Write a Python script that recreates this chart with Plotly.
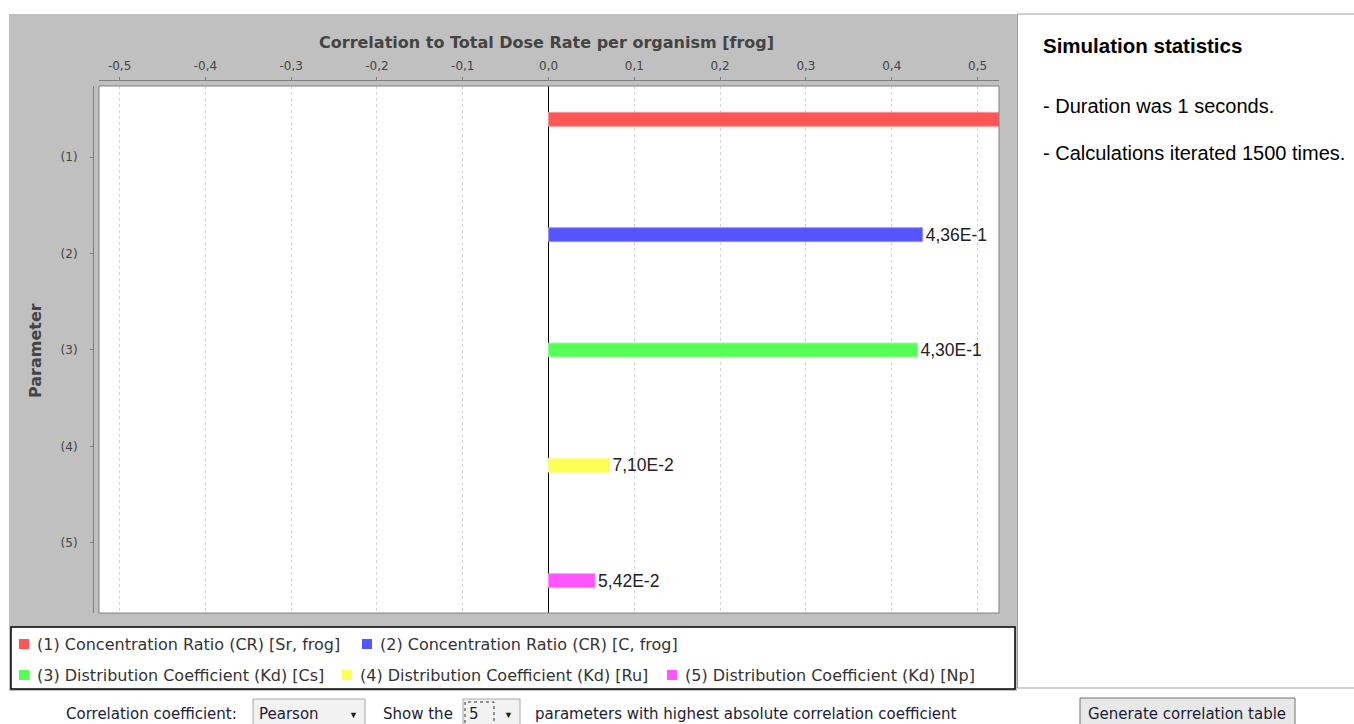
import plotly.graph_objects as go

W, H = 1354, 724

# ---- data -------------------------------------------------------------
categories = ["(1)", "(2)", "(3)", "(4)", "(5)"]
parameter_names = [
    "(1) Concentration Ratio (CR) [Sr, frog]",
    "(2) Concentration Ratio (CR) [C, frog]",
    "(3) Distribution Coefficient (Kd) [Cs]",
    "(4) Distribution Coefficient (Kd) [Ru]",
    "(5) Distribution Coefficient (Kd) [Np]",
]
correlations = [0.575, 0.436, 0.430, 0.0710, 0.0542]
series_colors = ["#FF5555", "#5555FF", "#55FF55", "#FFFF55", "#FF55FF"]
outline_colors = ["#FF9999", "#9999FF", "#99FF99", "#FFFF99", "#FF99FF"]

x_tick_values = [-0.5, -0.4, -0.3, -0.2, -0.1, 0.0, 0.1, 0.2, 0.3, 0.4, 0.5]
x_tick_labels = ["-0,5", "-0,4", "-0,3", "-0,2", "-0,1", "0,0",
                 "0,1", "0,2", "0,3", "0,4", "0,5"]
x_range = [-0.524, 0.525]

stats_title = "Simulation statistics"
stats_lines = ["- Duration was 1 seconds.", "- Calculations iterated 1500 times."]


def sci_label(v):
    """Scientific notation with a decimal comma, e.g. 4,36E-1."""
    mant, exp = f"{v:.2E}".split("E")
    return f"{mant.replace('.', ',')}E{int(exp)}"


def px(x):
    return x / W


def py(y):
    return 1 - y / H


FONT = "Liberation Sans, Arial, sans-serif"
UI = "DejaVu Sans, Verdana, sans-serif"
AX_GREY = "#444444"

# each parameter occupies its own slot inside a category band (5 slots per band)
SLOT = 0.197
BAR_W = 0.145

fig = go.Figure()

for i, (cat, val) in enumerate(zip(categories, correlations)):
    label = sci_label(val) if val <= x_range[1] else ""
    fig.add_trace(go.Bar(
        y=[cat], x=[val], orientation="h",
        name=parameter_names[i],
        width=BAR_W, offset=(i - 2) * SLOT - BAR_W / 2,
        marker=dict(color=series_colors[i],
                    line=dict(color=outline_colors[i], width=1)),
        text=[label], textposition="outside", constraintext="none",
        textfont=dict(family=FONT, size=17.5, color="#222222"),
        cliponaxis=True,
        showlegend=False,
        hoverinfo="x+name",
    ))

shapes = []
# grey chart panel (also framing the legend)
shapes.append(dict(type="rect", xref="paper", yref="paper",
                   x0=px(9), x1=px(1017), y0=py(691), y1=py(14),
                   fillcolor="#C0C0C0", line=dict(width=0), layer="below"))
# white plot area
shapes.append(dict(type="rect", xref="paper", yref="paper",
                   x0=px(99), x1=px(999), y0=py(613), y1=py(86),
                   fillcolor="white", line=dict(width=0), layer="below"))
# plot outline
shapes.append(dict(type="rect", xref="paper", yref="paper",
                   x0=px(99), x1=px(999), y0=py(613), y1=py(86),
                   fillcolor="rgba(0,0,0,0)", line=dict(color="#808080", width=1),
                   layer="above"))
# statistics panel
shapes.append(dict(type="rect", xref="paper", yref="paper",
                   x0=px(1017.5), x1=px(1360), y0=py(688), y1=py(14),
                   fillcolor="white", line=dict(color="#A0A0A0", width=1),
                   layer="below"))
# legend box
shapes.append(dict(type="rect", xref="paper", yref="paper",
                   x0=px(11), x1=px(1015), y0=py(689), y1=py(627),
                   fillcolor="white", line=dict(color="#000000", width=1.5),
                   layer="above"))

annotations = []

# axis titles
annotations.append(dict(text="<b>Correlation to Total Dose Rate per organism [frog]</b>",
                        x=px(546), y=py(43), xref="paper", yref="paper",
                        showarrow=False, xanchor="center", yanchor="middle",
                        font=dict(family=UI, size=16, color=AX_GREY)))
annotations.append(dict(text="<b>Parameter</b>", textangle=-90,
                        x=px(35), y=py(351), xref="paper", yref="paper",
                        showarrow=False, xanchor="center", yanchor="middle",
                        font=dict(family=UI, size=16, color=AX_GREY)))

# legend entries (two rows)
legend_pos = [(19, 644), (362, 644), (19, 675), (342, 675), (667, 675)]
for (lx, ly), name, col in zip(legend_pos, parameter_names, series_colors):
    shapes.append(dict(type="rect", xref="paper", yref="paper",
                       x0=px(lx), x1=px(lx + 10), y0=py(ly + 5), y1=py(ly - 5),
                       fillcolor=col, line=dict(width=0), layer="above"))
    annotations.append(dict(text=name, x=px(lx + 16), y=py(ly),
                            xref="paper", yref="paper", showarrow=False,
                            xanchor="left", yanchor="middle",
                            font=dict(family=UI, size=16, color="#333333")))

# statistics panel text
annotations.append(dict(text=f"<b>{stats_title}</b>", x=px(1041), y=py(45),
                        xref="paper", yref="paper", showarrow=False,
                        xanchor="left", yanchor="middle",
                        font=dict(family=FONT, size=20.5, color="#000000")))
for ly, line in zip([106, 153], stats_lines):
    annotations.append(dict(text=line, x=px(1041), y=py(ly),
                            xref="paper", yref="paper", showarrow=False,
                            xanchor="left", yanchor="middle",
                            font=dict(family=FONT, size=20, color="#000000")))

# controls row
CTRL = dict(family=UI, size=15, color="#1C1C34")
for tx, txt in [(64, "Correlation coefficient:"), (381, "Show the"),
                (533, "parameters with highest absolute correlation coefficient")]:
    annotations.append(dict(text=txt, x=px(tx), y=py(714), xref="paper", yref="paper",
                            showarrow=False, xanchor="left", yanchor="middle", font=CTRL))
# combo boxes
for x0, x1, val in [(253, 365, "Pearson"), (463, 520, "5")]:
    shapes.append(dict(type="rect", xref="paper", yref="paper",
                       x0=px(x0), x1=px(x1), y0=py(730), y1=py(699),
                       fillcolor="#F2F2F2", line=dict(color="#A8A8A8", width=1),
                       layer="above"))
    annotations.append(dict(text=val, x=px(x0 + 4), y=py(714), xref="paper", yref="paper",
                            showarrow=False, xanchor="left", yanchor="middle", font=CTRL))
    annotations.append(dict(text="▼", x=px(x1 - 12), y=py(715), xref="paper", yref="paper",
                            showarrow=False, xanchor="center", yanchor="middle",
                            font=dict(family=FONT, size=9, color="#202020")))
# focus rectangle around the number selector value
shapes.append(dict(type="rect", xref="paper", yref="paper",
                   x0=px(465), x1=px(494), y0=py(728), y1=py(702),
                   fillcolor="rgba(0,0,0,0)", line=dict(color="#303030", width=1, dash="dot"),
                   layer="above"))
# button
shapes.append(dict(type="rect", xref="paper", yref="paper",
                   x0=px(1080), x1=px(1295), y0=py(730), y1=py(698),
                   fillcolor="#E8E8E8", line=dict(color="#707070", width=1),
                   layer="above"))
annotations.append(dict(text="Generate correlation table", x=px(1187), y=py(714),
                        xref="paper", yref="paper", showarrow=False,
                        xanchor="center", yanchor="middle", font=CTRL))

fig.update_layout(
    width=W, height=H,
    margin=dict(l=0, r=0, t=0, b=0, pad=0),
    paper_bgcolor="white", plot_bgcolor="rgba(0,0,0,0)",
    barmode="overlay",
    showlegend=False,
    font=dict(family=FONT),
    shapes=shapes, annotations=annotations,
    xaxis=dict(
        domain=[px(99), px(999)], range=x_range,
        side="top", anchor="free", position=py(80),
        showline=True, linecolor="#808080", linewidth=1,
        ticks="outside", ticklen=3, tickcolor="#808080",
        tickvals=x_tick_values, ticktext=x_tick_labels,
        tickfont=dict(family=UI, size=12, color=AX_GREY),
        ticklabelstandoff=2,
        showgrid=True, gridcolor="#D4D4D4", griddash="3px,3px", gridwidth=1,
        zeroline=True, zerolinecolor="#000000", zerolinewidth=1,
        automargin=False, fixedrange=True,
    ),
    yaxis=dict(
        domain=[py(613), py(86)], type="category",
        categoryorder="array", categoryarray=categories,
        range=[4.73, -0.74],
        anchor="free", position=px(93),
        showline=True, linecolor="#808080", linewidth=1,
        ticks="outside", ticklen=3, tickcolor="#808080",
        tickfont=dict(family=UI, size=12, color=AX_GREY),
        ticklabelstandoff=10,
        showgrid=False, zeroline=False,
        automargin=False, fixedrange=True,
    ),
)

fig.write_html("out.html")
